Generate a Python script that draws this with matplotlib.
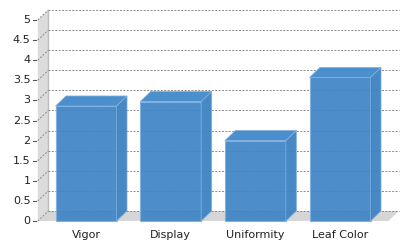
import matplotlib.pyplot as plt
from matplotlib.patches import Polygon
import numpy as np

# data
categorias = ['Vigor', 'Display', 'Uniformity', 'Leaf Color']
valores = [2.86, 2.97, 2.0, 3.57]
yticks = [0, 0.5, 1, 1.5, 2, 2.5, 3, 3.5, 4, 4.5, 5]

# 3d look
dx, dy = 0.124, 0.25
largura = 0.72
cor_frente = '#3f84c5'
cor_topo = '#4289cb'
cor_lado = '#3e82c2'
cor_borda = '#80b1e0'

fig = plt.figure(figsize=(4.1, 2.5), dpi=100)
ax = fig.add_axes([0.1066, 0.116, 0.826, 0.804])
ax.set_xlim(-0.5, 3.5)
ax.set_ylim(0, 5)
ax.axis('off')

x0, x1 = -0.57, 3.57

# parede e chao
parede = Polygon([(x0, 0), (x0 + dx, dy), (x0 + dx, 5 + dy), (x0, 5)],
                 closed=True, facecolor='#dcdcdc', edgecolor='none', clip_on=False, zorder=1)
ax.add_patch(parede)
ax.plot([x0 + dx, x0 + dx], [dy, 5 + dy], color='#bdbdbd', lw=1, clip_on=False, zorder=1.5)
chao = Polygon([(x0, 0), (x0 + dx, dy), (x1 + dx, dy), (x1, 0)],
               closed=True, facecolor='#d6d6d6', edgecolor='none', clip_on=False, zorder=1)
ax.add_patch(chao)

# grade
for v in yticks:
    ax.plot([x0 + dx, x1 + dx], [v + dy, v + dy], ls=(0, (2, 1.5)), color='#8a8a8a',
            lw=0.7, clip_on=False, zorder=2)
    ax.plot([x0, x0 + dx], [v, v + dy], ls=(0, (2, 1.5)), color='#8a8a8a',
            lw=0.7, clip_on=False, zorder=2)
    ax.plot([x0 - 0.06, x0 - 0.025], [v, v], color='#555555', lw=0.8, clip_on=False)
    ax.text(x0 - 0.085, v, str(v).replace('.0', '') if v != 0.5 else '0.5',
            ha='right', va='center', fontsize=8, color='#222222')

# barras
x = np.arange(len(categorias))
ax.bar(x, valores, width=largura, color=cor_frente, edgecolor=cor_borda, linewidth=0.8,
       alpha=0.93, zorder=4, clip_on=False)
for xi, v in zip(x, valores):
    esq, dir_ = xi - largura / 2, xi + largura / 2
    topo = Polygon([(esq, v), (esq + dx, v + dy), (dir_ + dx, v + dy), (dir_, v)],
                   closed=True, facecolor=cor_topo, edgecolor=cor_borda, lw=0.6,
                   alpha=0.95, zorder=4, clip_on=False)
    lado = Polygon([(dir_, 0), (dir_ + dx, dy), (dir_ + dx, v + dy), (dir_, v)],
                   closed=True, facecolor=cor_lado, edgecolor=cor_borda, lw=0.6,
                   alpha=0.95, zorder=4, clip_on=False)
    ax.add_patch(topo)
    ax.add_patch(lado)
    ax.text(xi, -0.36, categorias[xi], ha='center', va='center', fontsize=8, color='#222222')

fig.savefig('out.png', dpi=100)
